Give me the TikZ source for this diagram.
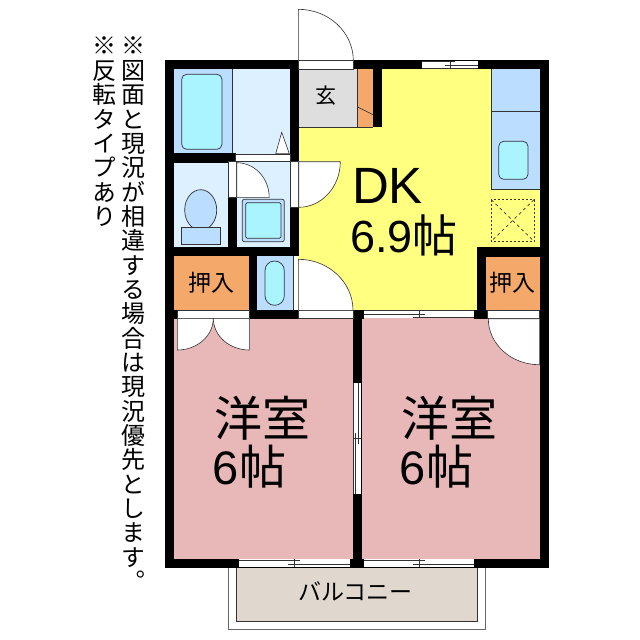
\documentclass[tikz,border=0pt]{standalone}
\usepackage{fontspec}
\setmainfont{Liberation Sans}
\newfontfamily\jp{Noto Sans CJK JP}
\newfontfamily\jpv[RawFeature=+vert]{Noto Sans CJK JP}
\definecolor{pinkc}{HTML}{E8B8B8}
\definecolor{yellowc}{HTML}{FFFF80}
\definecolor{orangec}{HTML}{F4A96A}
\definecolor{grayc}{HTML}{DEDEDE}
\definecolor{palec}{HTML}{DDF0FF}
\definecolor{midc}{HTML}{BBDDFF}
\definecolor{cyanc}{HTML}{AAF4FF}
\definecolor{balc}{HTML}{E0D8CF}
\definecolor{linec}{HTML}{333333}
\tikzset{
  wall/.style={fill=black,draw=none},
  fixture/.style={draw=linec,line width=0.7pt},
  opening/.style={fill=white,draw=linec,line width=0.6pt},
  doorleaf/.style={fill=white,draw=linec,line width=0.6pt},
  sash/.style={draw=linec,line width=0.8pt},
  label/.style={inner sep=0pt,anchor=center,text=black},
  vtext/.style={inner sep=0pt,anchor=north,align=center,text=black,font=\fontsize{24}{24.35}\selectfont\jpv},
}
\begin{document}
\begin{tikzpicture}[x=1pt,y=-1pt]
\useasboundingbox (0,0) rectangle (640,640);
\fill[white] (0,0) rectangle (640,640);
% balcony
\draw[fill=white,draw=gray!80!black,line width=0.9pt] (228.3,567) rectangle (485.3,629.3);
\draw[fill=balc,draw=linec,line width=0.8pt] (236.3,567) rectangle (477.3,621.3);
% rooms
\fill[yellowc] (298,69) rectangle (540,311);
\fill[pinkc] (174,318) rectangle (353,559);
\fill[pinkc] (361,318) rectangle (540,559);
\fill[palec] (174,69) rectangle (290,154);
\fill[midc] (174,69) rectangle (232,154);
\draw[fixture] (232,69) -- (232,153);
\fill[palec] (174,162) rectangle (229,248);
\fill[palec] (236,162) rectangle (290,248);
\fill[grayc] (298,69) rectangle (357,127);
\fill[orangec] (357,69) rectangle (373,127);
\draw[fixture] (357,69) -- (357,127);
\draw[fixture] (298,127) -- (373,127);
\draw[fixture] (357,106.7) -- (373,114.7);
\fill[orangec] (174,256) rectangle (249,310);
\fill[orangec] (486,256) rectangle (540,310);
\fill[midc] (257,256) rectangle (293,310);
\draw[fixture] (293,256) -- (293,310);
% walls
\fill[wall] (165,60) rectangle (549,69.3);
\fill[wall] (165,60) rectangle (174.3,568);
\fill[wall] (539.5,60) rectangle (549,568);
\fill[wall] (165,558.5) rectangle (549,568);
\fill[wall] (352.7,310) rectangle (361.7,568);
\fill[wall] (289.8,60) rectangle (298.7,256);
\fill[wall] (165,153.3) rectangle (236,162.5);
\fill[wall] (228.3,162) rectangle (236.7,256);
\fill[wall] (165,247.3) rectangle (298.7,256.3);
\fill[wall] (248.5,256) rectangle (257.3,318.5);
\fill[wall] (165,310) rectangle (177.5,318.5);
\fill[wall] (248.5,309.8) rectangle (298.7,318.5);
\fill[wall] (373,69) rectangle (382,127.3);
\fill[wall] (477.3,247.3) rectangle (549,256.5);
\fill[wall] (477.3,247.3) rectangle (486,318.5);
\fill[wall] (474.3,310) rectangle (487.5,318.7);
\fill[wall] (352.7,310) rectangle (363.5,318.5);
% openings
\draw[opening] (298.3,60.5) rectangle (353.3,68.8);
\draw[opening] (235.7,154.2) rectangle (290.5,161.7);
\draw[opening] (228.3,161.2) rectangle (236.7,197.3);
\draw[opening] (290.7,161.2) rectangle (298.7,207.3);
\draw[opening] (177.3,310.7) rectangle (249.3,318.3);
\draw[opening] (298.3,310.7) rectangle (353,318.3);
\draw[opening] (487.5,310.3) rectangle (539.3,318.5);
% entrance door
\draw[doorleaf] (298.3,60.5) -- (298.3,9.3) arc[start angle=90,end angle=0,x radius=55,y radius=-51.2] -- cycle;
% inner door, wash room
\draw[doorleaf] (236.7,197.3) -- (236.7,162.7) arc[start angle=90,end angle=0,x radius=32.5,y radius=-34.6] -- cycle;
% door into DK
\draw[doorleaf] (298.7,161.7) -- (340.3,161.7) arc[start angle=0,end angle=-90,x radius=41.6,y radius=-45.6] -- cycle;
% door to left room
\draw[doorleaf] (298.3,310.3) -- (298.3,259.3) arc[start angle=90,end angle=0,x radius=54.7,y radius=-51] -- cycle;
% closet doors
\draw[doorleaf] (177.3,318.3) -- (177.3,350) arc[start angle=-90,end angle=0,x radius=36,y radius=-31.7] -- cycle;
\draw[doorleaf] (249.3,318.3) -- (249.3,350) arc[start angle=270,end angle=180,x radius=36,y radius=-31.7] -- cycle;
% right closet door
\draw[doorleaf] (539.3,318.7) -- (488.3,318.7) arc[start angle=180,end angle=270,x radius=51,y radius=-46] -- cycle;
% tub
\draw[fixture,fill=cyanc,rounded corners=5pt] (181.7,74.3) rectangle (222,149.3);
% triangle
\draw[doorleaf] (275.7,153.7) -- (281.7,132.3) -- (289.3,153.7) -- cycle;
% toilet
\draw[fixture,fill=midc] (200.7,210) ellipse[x radius=16,y radius=20.3];
\draw[fixture,fill=midc] (181.3,227.7) rectangle (220.7,244.3);
% washing unit
\draw[fixture,fill=midc,rounded corners=2pt] (242.3,199.3) rectangle (284.3,241.7);
\draw[fixture,fill=cyanc,rounded corners=1.5pt] (245.7,202.7) rectangle (281,238.3);
% small basin
\draw[fixture,fill=cyanc,rounded corners=9.5pt] (265,261) rectangle (284.3,305.3);
% kitchen
\fill[midc] (491.7,69.3) rectangle (539.5,189.3);
\draw[fixture] (491.7,69.3) -- (491.7,189.3) -- (539.5,189.3);
\draw[fixture] (491.7,111.3) -- (539.5,111.3);
\draw[fixture,fill=cyanc,rounded corners=5pt] (498.7,141.3) rectangle (528,179.3);
\draw[fixture,dash pattern=on 2pt off 2pt] (491.3,199.7) rectangle (534,241.3);
\draw[fixture,dash pattern=on 3pt off 3pt] (491.3,199.7) -- (534,241.3);
\draw[fixture,dash pattern=on 3pt off 3pt] (534,199.7) -- (491.3,241.3);
% windows
\fill[white] (422.3,61) rectangle (478,69);
\draw[sash] (422.3,61.5) -- (455,61.5);
\draw[sash] (445,65) -- (478,65);
\draw[sash] (422.3,68.7) -- (478,68.7);
\draw[sash] (450,61) -- (450,69);
\fill[white] (363.5,310.3) rectangle (474.3,318.2);
\draw[sash] (363.5,310.6) -- (474.3,310.6);
\draw[sash] (363.5,314) -- (425,314);
\draw[sash] (413,317.8) -- (474.3,317.8);
\draw[sash] (419,310.3) -- (419,318.2);
\fill[white] (239,559) rectangle (350,567.3);
\draw[sash] (239,560.5) -- (300,560.5);
\draw[sash] (288,564.5) -- (350,564.5);
\draw[sash] (294.3,559) -- (294.3,567.3);
\fill[white] (363.7,559) rectangle (474,567.3);
\draw[sash] (363.7,560.5) -- (425,560.5);
\draw[sash] (413,564.5) -- (474,564.5);
\draw[sash] (419.3,559) -- (419.3,567.3);
% interior sliding door
\fill[white] (353,383) rectangle (361,494);
\draw[sash,line width=0.6pt] (353.2,383) -- (353.2,494);
\draw[sash,line width=0.6pt] (358,383) -- (358,444);
\draw[sash,line width=0.6pt] (355.5,433) -- (355.5,494);
\draw[sash,line width=0.6pt] (353,438) -- (361,438);
% texts
\node[vtext] (note1) at (133,37) {※\\図\\面\\と\\現\\況\\が\\相\\違\\す\\る\\場\\合\\は\\現\\況\\優\\先\\と\\し\\ま\\す\\。};
\node[vtext] (note2) at (104,37) {※\\反\\転\\タ\\イ\\プ\\あ\\り};
\node[label,font=\fontsize{51}{51}\selectfont] (dk) at (387.5,186) {DK};
\node[label,font=\fontsize{45}{45}\selectfont] (dksz) at (404,235) {6.9{\jp 帖}};
\node[label,font=\fontsize{48}{48}\selectfont\jp] (w1) at (262,418) {洋室};
\node[label,font=\fontsize{47}{47}\selectfont] (w1s) at (249.5,467) {6{\jp 帖}};
\node[label,font=\fontsize{48}{48}\selectfont\jp] (w2) at (449,418) {洋室};
\node[label,font=\fontsize{47}{47}\selectfont] (w2s) at (436.5,467) {6{\jp 帖}};
\node[label,font=\fontsize{21}{21}\selectfont\jp] (gen) at (326,96) {玄};
\node[label,font=\fontsize{23}{23}\selectfont\jp] (o1) at (211,283) {押入};
\node[label,font=\fontsize{23}{23}\selectfont\jp] (o2) at (512.5,283) {押入};
\node[label,font=\fontsize{23}{23}\selectfont\jp] (bal) at (355.5,591) {バルコニー};
\end{tikzpicture}
\end{document}
